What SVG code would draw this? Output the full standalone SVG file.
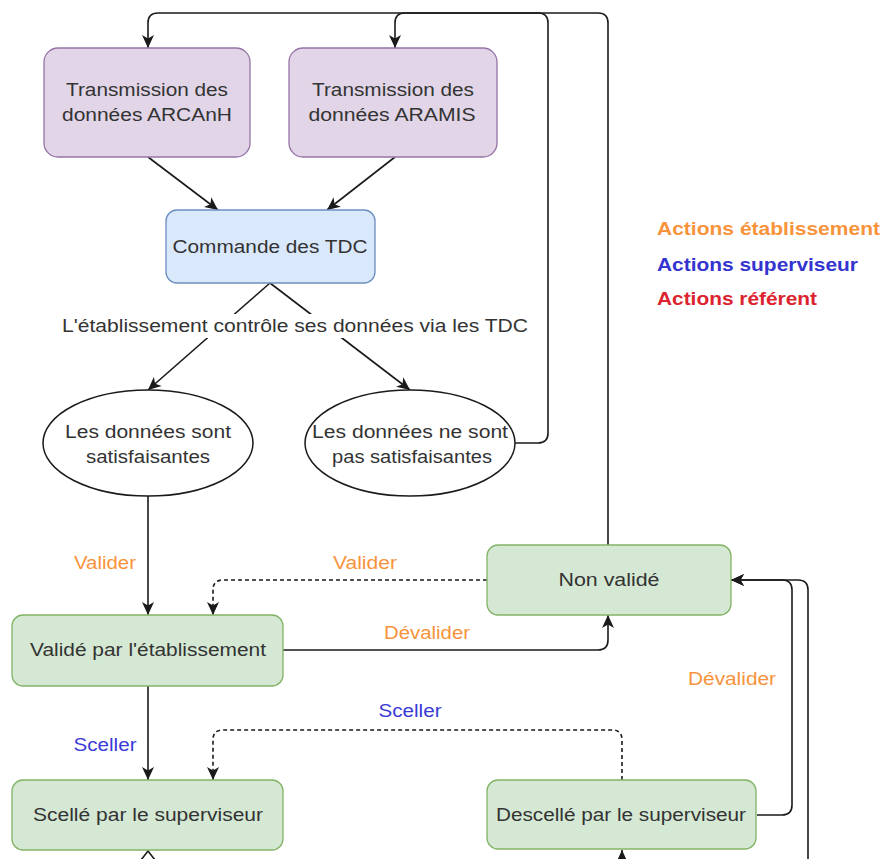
<svg xmlns="http://www.w3.org/2000/svg" width="882" height="859" viewBox="0 0 882 859">
<style>
.purple{fill:#e1d5e7;stroke:#9673a6;stroke-width:1.3}
.blue{fill:#dae8fc;stroke:#6c8ebf;stroke-width:1.3}
.green{fill:#d5e8d4;stroke:#82b366;stroke-width:1.3}
.ell{fill:#ffffff;stroke:#1a1a1a;stroke-width:1.5}
.t{font-family:"Liberation Sans",Arial,sans-serif;font-size:17.5px;fill:#333333;text-anchor:middle}
.lbl{font-family:"Liberation Sans",Arial,sans-serif;font-size:17.5px;text-anchor:middle}
.or{fill:#f7933b}
.bl{fill:#3b3bd6}
.leg{font-family:"Liberation Sans",Arial,sans-serif;font-size:17.5px;font-weight:bold}
.e{fill:none;stroke:#1a1a1a;stroke-width:1.6}
.d{stroke-dasharray:4 3}
</style>
<defs>
<marker id="arr" markerUnits="userSpaceOnUse" markerWidth="14" markerHeight="14" refX="13" refY="7" orient="auto">
<path d="M0,1 L13,7 L0,13 L3.5,7 z" fill="#1a1a1a"/>
</marker>
</defs>
<rect width="882" height="859" fill="#ffffff"/>
<g id="connectors">
<path class="e" d="M608,545 V23 Q608,13 598,13 H158 Q148,13 148,23 V48" marker-end="url(#arr)"/>
<path class="e" d="M515,443 H538 Q548,443 548,433 V23 Q548,13 538,13 H405 Q395,13 395,23 V48" marker-end="url(#arr)"/>
<path class="e" d="M148,157 L218,210" marker-end="url(#arr)"/>
<path class="e" d="M395,157 L327,210" marker-end="url(#arr)"/>
<path class="e" d="M270,283 L148,390" marker-end="url(#arr)"/>
<path class="e" d="M270,283 L410,390" marker-end="url(#arr)"/>
<path class="e" d="M148,496 V615" marker-end="url(#arr)"/>
<path class="e d" d="M487,580 H223 Q213,580 213,590 V615" marker-end="url(#arr)"/>
<path class="e" d="M283,650 H598 Q608,650 608,640 V615" marker-end="url(#arr)"/>
<path class="e" d="M148,686 V780" marker-end="url(#arr)"/>
<path class="e d" d="M622,780 V740 Q622,730 612,730 H223 Q213,730 213,740 V780" marker-end="url(#arr)"/>
<path class="e" d="M757,815 H782 Q792,815 792,805 V590 Q792,580 782,580 H731" marker-end="url(#arr)"/>
<path class="e" d="M808,859 V590 Q808,580 798,580 H731" marker-end="url(#arr)"/>
<path class="e" d="M622,864 V850" marker-end="url(#arr)"/>
<path class="e" d="M141,860 L148,851 L155,860"/>
<rect x="60" y="314" width="470" height="24" fill="#ffffff"/>
<text class="t" x="295" y="332" textLength="466" lengthAdjust="spacingAndGlyphs">L'établissement contrôle ses données via les TDC</text>
<text class="lbl or" x="105" y="569" textLength="62" lengthAdjust="spacingAndGlyphs">Valider</text>
<text class="lbl or" x="365" y="569" textLength="64" lengthAdjust="spacingAndGlyphs">Valider</text>
<text class="lbl or" x="427" y="639" textLength="86" lengthAdjust="spacingAndGlyphs">Dévalider</text>
<text class="lbl or" x="732" y="685" textLength="88" lengthAdjust="spacingAndGlyphs">Dévalider</text>
<text class="lbl bl" x="410" y="717" textLength="63" lengthAdjust="spacingAndGlyphs">Sceller</text>
<text class="lbl bl" x="105" y="751" textLength="63" lengthAdjust="spacingAndGlyphs">Sceller</text>
</g>
<g id="arcanh">
<rect class="purple" x="44" y="48" width="206" height="109" rx="14"/>
<text class="t" x="147" y="96" textLength="162" lengthAdjust="spacingAndGlyphs">Transmission des</text>
<text class="t" x="147" y="121" textLength="170" lengthAdjust="spacingAndGlyphs">données ARCAnH</text>
</g>
<g id="aramis">
<rect class="purple" x="289" y="48" width="208" height="109" rx="14"/>
<text class="t" x="393" y="96" textLength="162" lengthAdjust="spacingAndGlyphs">Transmission des</text>
<text class="t" x="392" y="121" textLength="167" lengthAdjust="spacingAndGlyphs">données ARAMIS</text>
</g>
<g id="commande">
<rect class="blue" x="166" y="210" width="209" height="73" rx="11"/>
<text class="t" x="270" y="253" textLength="195" lengthAdjust="spacingAndGlyphs">Commande des TDC</text>
</g>
<g id="satisfaisantes">
<ellipse class="ell" cx="148" cy="443" rx="105" ry="53"/>
<text class="t" x="148" y="438" textLength="166" lengthAdjust="spacingAndGlyphs">Les données sont</text>
<text class="t" x="148" y="463" textLength="124" lengthAdjust="spacingAndGlyphs">satisfaisantes</text>
</g>
<g id="non-satisfaisantes">
<ellipse class="ell" cx="410" cy="443" rx="105" ry="53"/>
<text class="t" x="410" y="438" textLength="196" lengthAdjust="spacingAndGlyphs">Les données ne sont</text>
<text class="t" x="412" y="463" textLength="160" lengthAdjust="spacingAndGlyphs">pas satisfaisantes</text>
</g>
<g id="non-valide">
<rect class="green" x="487" y="545" width="244" height="70" rx="11"/>
<text class="t" x="609" y="586" textLength="101" lengthAdjust="spacingAndGlyphs">Non validé</text>
</g>
<g id="valide">
<rect class="green" x="12" y="615" width="271" height="71" rx="11"/>
<text class="t" x="148" y="656" textLength="236" lengthAdjust="spacingAndGlyphs">Validé par l'établissement</text>
</g>
<g id="scelle">
<rect class="green" x="12" y="780" width="271" height="70" rx="11"/>
<text class="t" x="148" y="821" textLength="230" lengthAdjust="spacingAndGlyphs">Scellé par le superviseur</text>
</g>
<g id="descelle">
<rect class="green" x="487" y="780" width="269" height="69" rx="11"/>
<text class="t" x="621" y="821" textLength="250" lengthAdjust="spacingAndGlyphs">Descellé par le superviseur</text>
</g>
<g id="legend">
<text class="leg" x="657" y="235" fill="#f7933b" textLength="223" lengthAdjust="spacingAndGlyphs">Actions établissement</text>
<text class="leg" x="657" y="271" fill="#3434d0" textLength="201" lengthAdjust="spacingAndGlyphs">Actions superviseur</text>
<text class="leg" x="657" y="305" fill="#dc2430" textLength="160" lengthAdjust="spacingAndGlyphs">Actions référent</text>
</g>
</svg>
